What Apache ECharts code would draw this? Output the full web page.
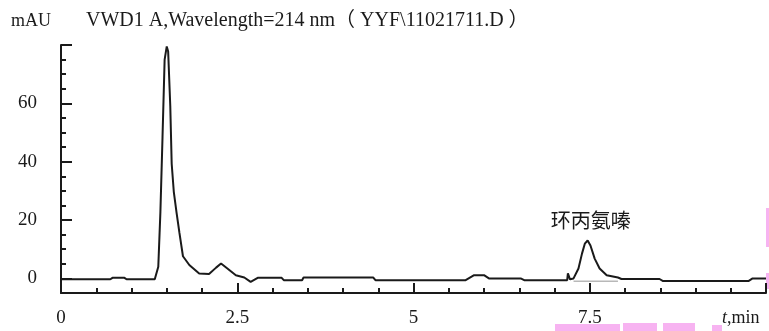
<!DOCTYPE html>
<html>
<head>
<meta charset="utf-8">
<script src="https://cdn.jsdelivr.net/npm/echarts@6/dist/echarts.min.js"></script>
<style>
html, body { margin: 0; padding: 0; background: #fff; }
#main { width: 769px; height: 331px; }
</style>
</head>
<body>
<div id="main"></div>
<script>
// retention time (min) and signal (mAU)
const times = [0, 0.70, 0.73, 0.90, 0.93, 1.33, 1.38, 1.41, 1.44, 1.47, 1.50, 1.52, 1.55, 1.57, 1.60, 1.64,
    1.68, 1.73, 1.82, 1.96, 2.10, 2.20, 2.27, 2.36, 2.48, 2.60, 2.69, 2.79, 3.13, 3.16, 3.42, 3.44,
    4.43, 4.46, 5.74, 5.86, 6.00, 6.07, 6.52, 6.57, 7.18, 7.19, 7.22, 7.27, 7.34, 7.39, 7.43, 7.47,
    7.51, 7.57, 7.64, 7.74, 7.90, 7.95, 8.49, 8.54, 9.75, 9.81, 10];
const signal = [-0.3, -0.3, 0.2, 0.2, -0.3, -0.3, 4.0, 22.8, 48.5, 75, 79.5, 77.8, 59.1, 39.3, 29.7, 22.4,
    15.6, 7.6, 4.6, 1.7, 1.5, 3.7, 5.1, 3.4, 1.1, 0.3, -1.2, 0.2, 0.2, -0.6, -0.6, 0.3,
    0.3, -0.6, -0.6, 1.1, 1.1, 0, 0, -0.6, -0.6, 1.7, -0.3, 0, 3.4, 8.5, 11.9, 13.0,
    11.3, 6.8, 3.4, 1.1, 0.3, -0.2, -0.2, -0.9, -0.9, 0, 0];
// integration baseline under the peak
const baseTimes = [7.27, 7.90];
const baseSignal = [-1.0, -1.0];

const xTickLabels = ['0', '2.5', '5', '7.5'];
const yTickLabels = [0, 20, 40, 60];
const peakName = '环丙氨嗪';

const serif = '"Liberation Serif", "Noto Sans CJK SC", serif';
const ink = '#1a1a1a';
const pink = '#f7b3f1';

const chartDom = document.getElementById('main');
const myChart = echarts.init(chartDom, null, { renderer: 'canvas' });

let option = {
    animation: false,
    backgroundColor: '#fff',
    title: [
        { text: 'mAU', left: 6, top: 7, textStyle: { fontFamily: serif, fontSize: 18, fontWeight: 'normal', color: ink } },
        { text: 'VWD1 A,Wavelength=214 nm（ YYF\\11021711.D ）', left: 81, top: 6,
          textStyle: { fontFamily: serif, fontSize: 20, fontWeight: 'normal', color: ink } }
    ],
    grid: { left: 61, right: 0, top: 45, bottom: 38 },
    xAxis: {
        type: 'value', min: 0, max: 10, interval: 2.5,
        axisLine: { onZero: false, lineStyle: { color: ink, width: 2 } },
        axisTick: { inside: true, length: 10, lineStyle: { color: ink, width: 2 } },
        minorTick: { show: true, splitNumber: 5, length: 5, lineStyle: { color: ink, width: 2 } },
        splitLine: { show: false },
        axisLabel: {
            fontFamily: serif, fontSize: 19, color: ink, margin: 16,
            formatter: v => xTickLabels.includes(String(v)) ? String(v) : ''
        }
    },
    yAxis: [
        {
            type: 'value', min: -5, max: 80, interval: 5,
            axisLine: { show: true, lineStyle: { color: ink, width: 2 } },
            axisTick: { inside: true, length: 5, lineStyle: { color: ink, width: 2 },
                customValues: [5, 10, 15, 25, 30, 35, 45, 50, 55, 65, 70, 75] },
            splitLine: { show: false },
            axisLabel: {
                fontFamily: serif, fontSize: 19, color: ink, margin: 24,
                customValues: yTickLabels
            }
        },
        {
            type: 'value', min: -5, max: 80, interval: 5, position: 'left',
            axisLine: { show: false },
            axisTick: { inside: true, length: 11, lineStyle: { color: ink, width: 2 },
                customValues: [0, 20, 40, 60, 80] },
            splitLine: { show: false },
            axisLabel: { show: false }
        }
    ],
    series: [
        {
            type: 'line', showSymbol: false, silent: true,
            data: baseTimes.map((t, i) => [t, baseSignal[i]]),
            lineStyle: { color: '#b8b8b8', width: 1.5 }
        },
        {
            type: 'line', showSymbol: false,
            data: times.map((t, i) => [t, signal[i]]),
            lineStyle: { color: ink, width: 2 },
            markPoint: {
                symbol: 'rect', symbolSize: 1, itemStyle: { color: 'transparent' },
                data: [{ coord: [7.47, 13.0], label: { show: true, formatter: peakName,
                    offset: [3, -18], fontFamily: serif, fontSize: 20, color: ink } }]
            }
        }
    ],
    graphic: [
        { type: 'text', left: 722, top: 309,
          style: { text: '{i|t},min', font: '18px ' + serif, fill: ink,
                   rich: { i: { fontStyle: 'italic', fontFamily: serif, fontSize: 18, fill: ink } } } },
        // pink scan marks along the edges
        { type: 'rect', shape: { x: 555, y: 324, width: 65, height: 7 }, style: { fill: pink } },
        { type: 'rect', shape: { x: 623, y: 323, width: 34, height: 8 }, style: { fill: pink } },
        { type: 'rect', shape: { x: 663, y: 323, width: 32, height: 8 }, style: { fill: pink } },
        { type: 'rect', shape: { x: 712, y: 325, width: 10, height: 6 }, style: { fill: pink } },
        { type: 'rect', shape: { x: 766, y: 208, width: 3, height: 39 }, style: { fill: pink } },
        { type: 'rect', shape: { x: 766, y: 273, width: 3, height: 16 }, style: { fill: pink } }
    ]
};

myChart.setOption(option);
</script>
</body>
</html>
